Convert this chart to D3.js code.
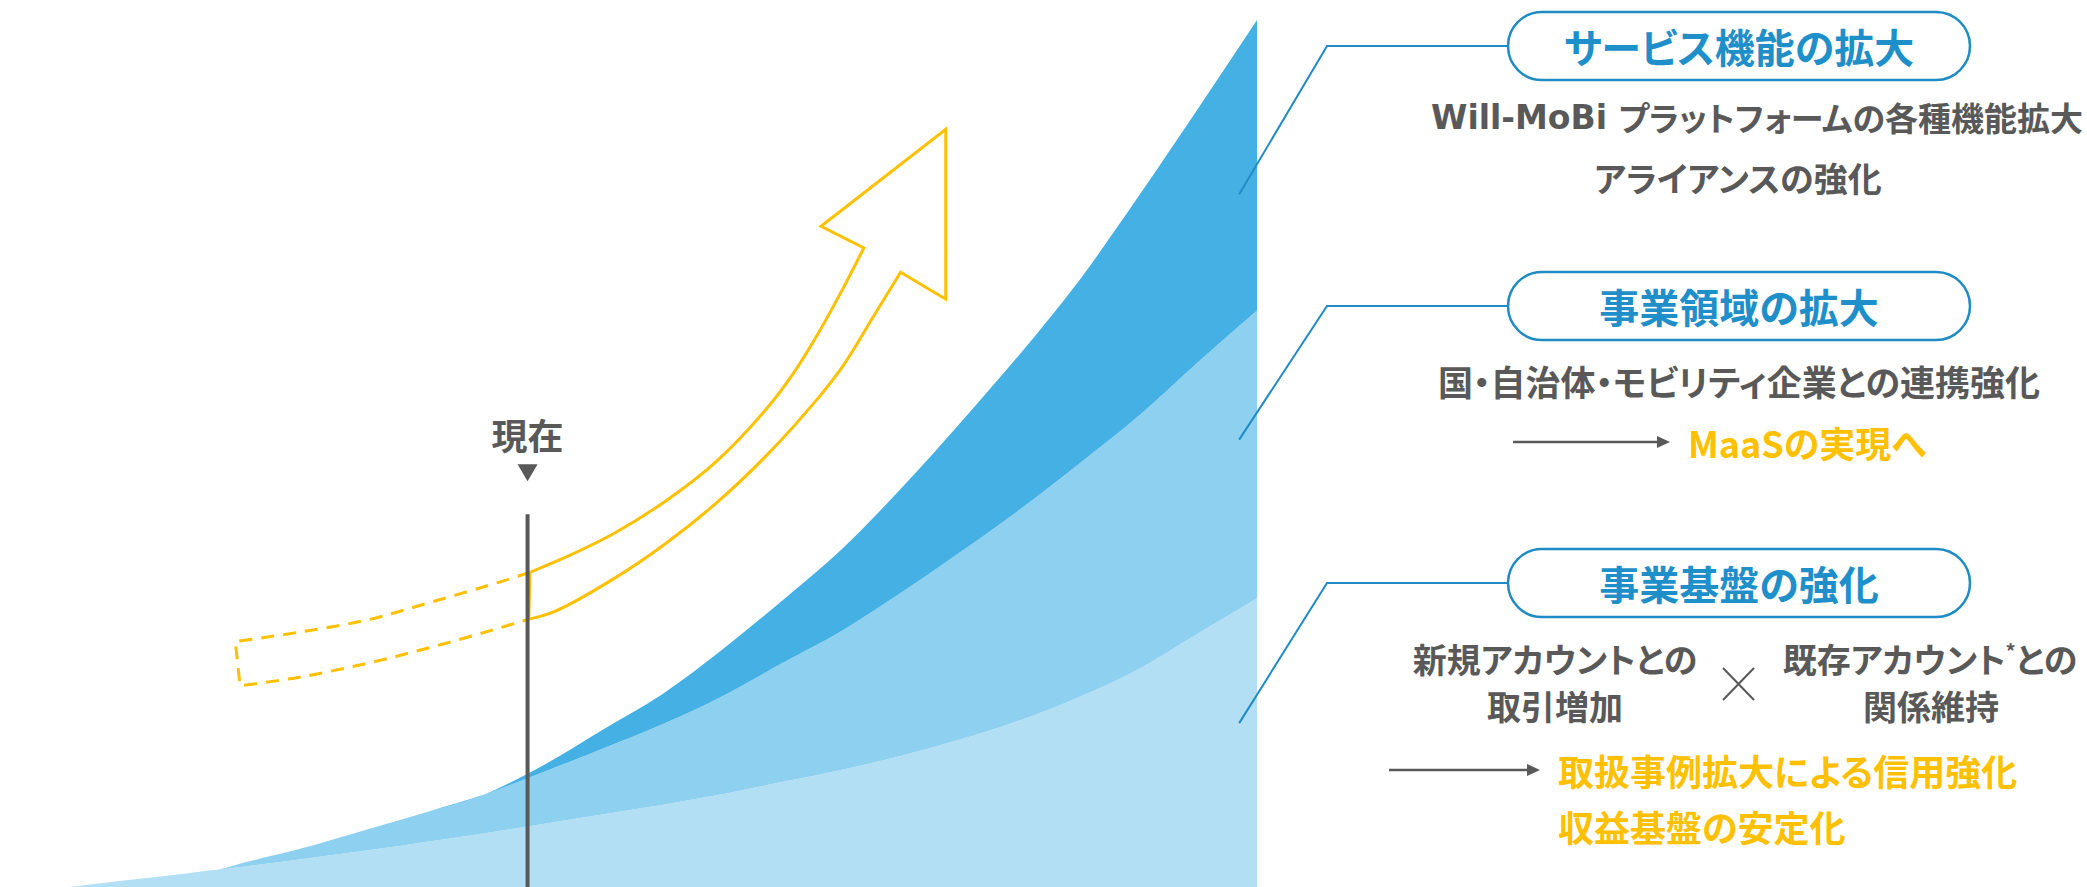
<!DOCTYPE html>
<html>
<head>
<meta charset="utf-8">
<title>growth</title>
<script src="https://cdn.jsdelivr.net/npm/d3@7"></script>
<style>
  body { margin: 0; background: #fff; }
  svg { display: block; }
  text {
    font-family: "Noto Sans CJK JP", sans-serif;
    font-weight: bold;
    font-feature-settings: "palt";
  }
</style>
</head>
<body>
<svg id="chart" width="2087" height="887"></svg>
<script>
// time axis (arbitrary units) and the three stacked layers
var periods = [0, 0.5, 1, 1.25, 1.5, 2, 2.5, 3, 3.5, 4, 4.5, 5, 5.5, 6, 6.5, 7, 7.5, 8, 8.5, 9, 9.5, 10];
var baseValues = [0, 0.8, 1.6, 2.0, 2.4, 3.3, 4.2, 5.2, 6.2, 7.3, 8.4, 9.5, 10.7, 12.1, 13.5, 15.1, 17.0, 19.2, 21.9, 25.1, 29.2, 33.3];
var domainValues = [0, 0, 0, 0, 0.5, 1.3, 2.4, 3.4, 4.5, 6.0, 7.6, 9.3, 11.3, 13.7, 16.0, 18.8, 21.6, 24.3, 26.9, 29.2, 31.3, 33.2];
var serviceValues = [0, 0, 0, 0, 0, 0, 0, 0, 0, 0.8, 2.2, 3.5, 5.4, 7.2, 9.4, 12.0, 14.9, 17.9, 21.1, 25.3, 29.2, 33.5];
var layerKeys = ["base", "domain", "service"];
var layerColors = ["#b3dff4", "#8ed0ef", "#44b0e4"];

var nowPeriod = 3.86;
var nowTop = 43;

// growth arrow, in the same [period, value] units
var arrowUpper = [[3.88, 36.3], [4.19, 38.1], [4.59, 40.8], [5.02, 44.5], [5.45, 49.1], [5.88, 55.3], [6.09, 59.1], [6.30, 63.7], [6.51, 68.9], [6.69, 73.7]];
var arrowHead = [[6.33, 76.2], [7.38, 87.4], [7.38, 67.8]];
var arrowLower = [[7.00, 70.9], [6.78, 66.0], [6.52, 60.2], [6.30, 56.3], [5.88, 49.9], [5.45, 44.3], [5.02, 39.6], [4.59, 35.6], [4.09, 31.8], [3.87, 30.9]];
var pastUpper = [[3.88, 36.3], [3.63, 35.2], [3.06, 32.9], [2.51, 30.8], [1.94, 29.4], [1.40, 28.3]];
var pastLower = [[1.44, 23.2], [1.94, 24.2], [2.51, 25.8], [3.06, 27.7], [3.63, 29.9], [3.87, 30.9]];

// callouts: anchor inside each layer
var calloutTitles = ["サービス機能の拡大", "事業領域の拡大", "事業基盤の強化"];
var calloutAnchors = [[9.85, 79.9], [9.85, 51.6], [9.85, 18.9]];

var svg = d3.select("#chart");

var x = d3.scaleLinear().domain([0, 10]).range([69, 1257]);
var y = d3.scaleLinear().domain([0, 100]).range([887, 20]);

var rows = periods.map(function (t, i) {
    return { t: t, base: baseValues[i], domain: domainValues[i], service: serviceValues[i] };
});
var series = d3.stack().keys(layerKeys)(rows);

var area = d3.area()
    .x(function (d) { return x(d.data.t); })
    .y0(function (d) { return y(d[0]); })
    .y1(function (d) { return y(d[1]); })
    .curve(d3.curveMonotoneX);

svg.append("g").selectAll("path")
    .data(series)
    .enter()
    .append("path")
    .attr("fill", function (d, i) { return layerColors[i]; })
    .attr("d", area);

// arrow
var curve = d3.line()
    .x(function (d) { return x(d[0]); })
    .y(function (d) { return y(d[1]); })
    .curve(d3.curveCatmullRom.alpha(0.5));
var straight = d3.line()
    .x(function (d) { return x(d[0]); })
    .y(function (d) { return y(d[1]); });

var solidD = curve(arrowUpper) +
    straight(arrowHead).replace(/^M/, "L") +
    curve(arrowLower).replace(/^M/, "L") + "Z";
svg.append("path")
    .attr("d", solidD)
    .attr("fill", "none")
    .attr("stroke", "#ffc000")
    .attr("stroke-width", 3);

var dashedD = curve(pastUpper) + curve(pastLower).replace(/^M/, "L");
svg.append("path")
    .attr("d", dashedD)
    .attr("fill", "none")
    .attr("stroke", "#ffc000")
    .attr("stroke-width", 3)
    .attr("stroke-dasharray", "13 9");

// now marker
var nx = x(nowPeriod);
svg.append("line")
    .attr("x1", nx).attr("x2", nx)
    .attr("y1", y(nowTop)).attr("y2", y(0))
    .attr("stroke", "#595959")
    .attr("stroke-width", 4);
svg.append("path")
    .attr("d", "M-10,0L10,0L0,17Z")
    .attr("transform", "translate(" + nx + "," + (y(nowTop) - 50) + ")")
    .attr("fill", "#595959");
svg.append("text")
    .attr("x", nx).attr("y", y(nowTop) - 80)
    .attr("text-anchor", "middle")
    .attr("dominant-baseline", "central")
    .attr("font-size", 36)
    .attr("fill", "#595959")
    .text("現在");

// callout pills
var blue = "#1f8bc5";
var pillLeft = 1508, pillW = 462, pillH = 68, bendX = 1327;
var pillY = [46, 306, 583];

calloutTitles.forEach(function (title, i) {
    var cy = pillY[i];
    var a = calloutAnchors[i];
    svg.append("polyline")
        .attr("points", [[x(a[0]), y(a[1])], [bendX, cy], [pillLeft, cy]].join(" "))
        .attr("fill", "none")
        .attr("stroke", blue)
        .attr("stroke-width", 2);
    svg.append("rect")
        .attr("x", pillLeft).attr("y", cy - pillH / 2)
        .attr("width", pillW).attr("height", pillH)
        .attr("rx", pillH / 2)
        .attr("fill", "#fff")
        .attr("stroke", blue)
        .attr("stroke-width", 2.5);
    svg.append("text")
        .attr("x", pillLeft + pillW / 2).attr("y", cy)
        .attr("text-anchor", "middle")
        .attr("dominant-baseline", "central")
        .attr("font-size", 40)
        .attr("fill", "#1f8fc9")
        .text(title);
});

function grayText(str, cx, cy, size) {
    return svg.append("text")
        .attr("x", cx).attr("y", cy)
        .attr("text-anchor", "middle")
        .attr("dominant-baseline", "central")
        .attr("font-size", size || 34)
        .attr("fill", "#595959")
        .text(str);
}
function yellowText(str, lx, cy) {
    return svg.append("text")
        .attr("x", lx).attr("y", cy)
        .attr("dominant-baseline", "central")
        .attr("font-size", 36)
        .attr("fill", "#ffc000")
        .text(str);
}
function pointer(x1, x2, yy) {
    svg.append("line")
        .attr("x1", x1).attr("x2", x2 - 10)
        .attr("y1", yy).attr("y2", yy)
        .attr("stroke", "#595959").attr("stroke-width", 2.5);
    svg.append("path")
        .attr("d", "M" + (x2 - 13) + "," + (yy - 6) + "L" + x2 + "," + yy + "L" + (x2 - 13) + "," + (yy + 6) + "Z")
        .attr("fill", "#595959");
}

var t1 = svg.append("text")
    .attr("x", 1757).attr("y", 117)
    .attr("text-anchor", "middle")
    .attr("dominant-baseline", "central")
    .attr("font-size", 33)
    .attr("fill", "#595959");
t1.append("tspan").style("font-family", "'DejaVu Sans', sans-serif").text("Will-MoBi ");
t1.append("tspan").text("プラットフォームの各種機能拡大");
grayText("アライアンスの強化", 1738, 177);

grayText("国・自治体・モビリティ企業との連携強化", 1739, 380, 35);
pointer(1513, 1670, 442);
yellowText("MaaSの実現へ", 1688, 442);

grayText("新規アカウントとの", 1555, 658);
grayText("取引増加", 1555, 705);
var t2 = grayText("", 1930, 658);
t2.append("tspan").text("既存アカウント");
t2.append("tspan").attr("font-size", 20).attr("dy", -8).text("*");
t2.append("tspan").attr("dy", 8).text("との");
grayText("関係維持", 1931, 705);

svg.append("path")
    .attr("d", "M1723,668L1754,700M1754,668L1723,700")
    .attr("stroke", "#595959")
    .attr("stroke-width", 2);

pointer(1389, 1540, 770);
yellowText("取扱事例拡大による信用強化", 1558, 770);
yellowText("収益基盤の安定化", 1558, 826);
</script>
</body>
</html>
